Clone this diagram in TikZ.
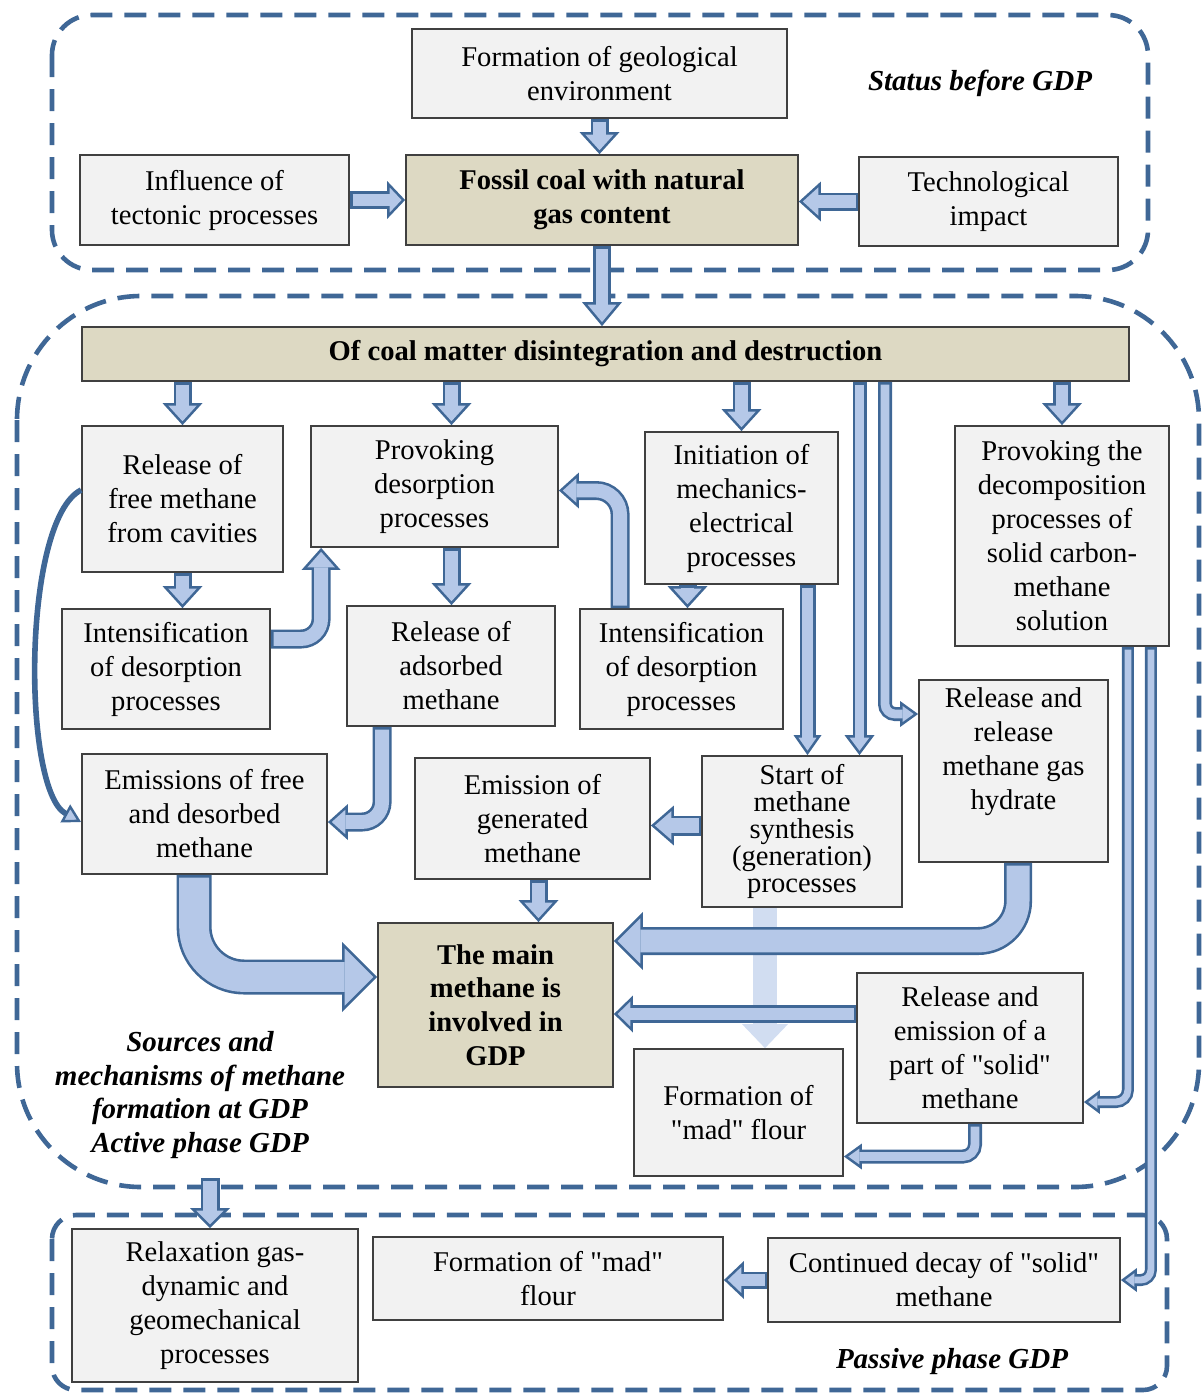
\documentclass[tikz,border=0pt]{standalone}
\usepackage{fontspec}
\setmainfont{Liberation Serif}[Ligatures=TeXOff]
\usetikzlibrary{arrows.meta,calc}

\definecolor{dblue}{HTML}{3F6796}
\definecolor{lblue}{HTML}{B5C8E8}
\definecolor{fblue}{HTML}{C9D7EF}
\definecolor{boxfill}{HTML}{F2F2F2}
\definecolor{tanfill}{HTML}{DDD9C3}
\definecolor{boxline}{HTML}{404040}

\newcommand\dq{\symbol{34}}

\tikzset{
  box/.style={draw=boxline, line width=0.9pt, fill=boxfill, inner sep=0pt, align=center,
    font=\fontsize{14.3}{17}\selectfont},
  keybox/.style={box, fill=tanfill, font=\fontsize{14.3}{16.8}\selectfont\bfseries},
  zone/.style={draw=dblue, line width=2.3pt, dash pattern=on 11pt off 6pt},
  caption/.style={align=center, inner sep=0pt, font=\fontsize{14.5}{16.8}\selectfont\bfseries\itshape},
  arrowline/.style={color=dblue},
  arrowfill/.style={color=lblue},
}

% box from pixel corners (x1,y1) (x2,y2)
\newcommand\placebox[7][box]{%
  \node[#1, minimum width={(#5-#3)*0.5pt}, minimum height={(#6-#4)*0.5pt}] (#2) at ({(#3+#5)/2},{(#4+#6)/2}) {#7};}

\def\bab{1.3}
\newcommand\blkarrow[5][]{%
  \pgfmathsetmacro\baW{#2}%
  \pgfmathsetmacro\baH{#3}%
  \pgfmathsetmacro\baL{#4}%
  \pgfmathsetmacro\bah{\baH/2}%
  \pgfmathsetmacro\bada{\bab*sqrt(\baL*\baL+\bah*\bah)/\bah}%
  \pgfmathsetmacro\baLi{\baL-\bada-\bab}%
  \pgfmathsetmacro\baHi{2*\bah*\baLi/\baL}%
  \pgfmathsetmacro\baWi{\baW-2*\bab}%
  \draw[arrowline, line width=\baW pt, -{Triangle[length=\baL pt, width=\baH pt, line width=0pt]}, #1] #5;
  \draw[arrowfill, line width=\baWi pt, -{Triangle[length=\baLi pt, width=\baHi pt, line width=0pt]}, shorten >=\bada pt, shorten <=\bab pt, #1] #5;
}

\begin{document}
\begin{tikzpicture}[x=0.5pt,y=-0.5pt]
\useasboundingbox (0,0) rectangle (1202,1394);

% zones
\draw[zone, rounded corners=20pt] (52,15) rectangle (1148,270);
\draw[zone, rounded corners=62pt] (17,296) rectangle (1199,1187);
\draw[zone, rounded corners=12pt] (52,1215) rectangle (1167,1390);

% captions
\node[caption] (stat) at (980,83) {Status before GDP};
\node[caption] (src) at (200,1095) {Sources and\\mechanisms of methane\\formation at GDP\\Active phase GDP};
\node[caption] (pas) at (952,1362) {Passive phase GDP};

% boxes
\placebox{geo}{412}{29}{787}{118}{Formation of geological\\environment}
\placebox[keybox]{fossil}{406}{155}{798}{245}{Fossil coal with natural\\gas content}
\placebox{infl}{80}{155}{349}{245}{Influence of\\tectonic processes}
\placebox{tech}{859}{157}{1118}{246}{Technological\\impact}
\placebox[keybox]{bar}{82}{327}{1129}{381}{Of coal matter disintegration and destruction}
\placebox{rfree}{82}{426}{283}{572}{Release of\\free methane\\from cavities}
\placebox{prov}{311}{426}{558}{547}{Provoking\\desorption\\processes}
\placebox{init}{645}{432}{838}{584}{Initiation of\\mechanics-\\electrical\\processes}
\placebox{pdec}{955}{426}{1169}{646}{Provoking the\\decomposition\\processes of\\solid carbon-\\methane\\solution}
\placebox{int1}{62}{609}{270}{729}{Intensification\\of desorption\\processes}
\placebox{rads}{347}{606}{555}{726}{Release of\\adsorbed\\methane}
\placebox{int2}{580}{609}{783}{729}{Intensification\\of desorption\\processes}
\placebox{hyd}{919}{680}{1108}{862}{Release and\\release\\methane gas\\hydrate\\\strut}
\placebox{emfree}{82}{754}{327}{874}{Emissions of free\\and desorbed\\methane}
\placebox{emgen}{415}{758}{650}{879}{Emission of\\generated\\methane}
\placebox[box, font=\fontsize{14.3}{13.4}\selectfont]{start}{702}{756}{902}{907}{Start of\\methane\\synthesis\\(generation)\\processes}
\placebox[keybox]{main}{378}{923}{613}{1087}{The main\\methane is\\involved in\\GDP}
\placebox{solid}{857}{973}{1083}{1123}{Release and\\emission of a\\part of \dq solid\dq\\methane}
\placebox{mad1}{634}{1049}{843}{1176}{Formation of\\\dq mad\dq\ flour}
\placebox{relax}{72}{1229}{358}{1382}{Relaxation gas-\\dynamic and\\geomechanical\\processes}
\placebox{mad2}{373}{1237}{723}{1320}{Formation of \dq mad\dq\\flour}
\placebox{decay}{768}{1238}{1120}{1322}{Continued decay of \dq solid\dq\\methane}

% helper coordinates
\coordinate (act) at (210,1178);
\coordinate (p1) at ([xshift=8.5pt]prov.north);
\coordinate (p2) at ([xshift=8.5pt]prov.south);
\coordinate (b1) at ([xshift=127pt]bar.south);
\coordinate (b2) at ([xshift=139.75pt]bar.south);
\coordinate (h1) at ([yshift=28.5pt]hyd.west);
\coordinate (i1) at ([xshift=33pt]init.south);
\coordinate (i2) at ([xshift=-27pt]init.south);
\coordinate (n1) at ([yshift=15pt]int1.east);
\coordinate (n2) at ([xshift=5.5pt]prov.south west);
\coordinate (n3) at ([xshift=20.5pt]int2.north west);
\coordinate (n4) at ([yshift=-2pt]prov.east);
\coordinate (n5) at ([xshift=18pt]rads.south west);
\coordinate (n6) at ([yshift=-4pt]emfree.east);
\coordinate (c1) at ([yshift=4.5pt]rfree.west);
\coordinate (c2) at ([yshift=-4pt]emfree.west);
\coordinate (e1) at ([xshift=56.5pt]emfree.south west);
\coordinate (e2) at ([yshift=14pt]main.west);
\coordinate (g1) at ([xshift=3pt]emgen.south);
\coordinate (s1) at ([yshift=3pt]start.west);
\coordinate (f1) at ([xshift=-18.5pt]start.south);
\coordinate (y1) at ([xshift=50pt]hyd.south west);
\coordinate (y2) at ([yshift=32pt]main.east);
\coordinate (r1) at ([yshift=17pt]solid.west);
\coordinate (r2) at ([xshift=2.5pt]solid.south);
\coordinate (r3) at ([yshift=-22pt]mad1.east);
\coordinate (d1) at ([xshift=-21pt]pdec.south east);
\coordinate (d2) at ([yshift=-27pt]solid.east);
\coordinate (d3) at ([xshift=-9.5pt]pdec.south east);

% top arrows
\blkarrow{9}{20}{11}{(geo.south) -- (geo.south |- fossil.north)}
\blkarrow{9}{19}{9}{(infl.east) -- (infl.east -| fossil.west)}
\blkarrow{9}{20}{11}{(tech.west) -- (tech.west -| fossil.east)}
\blkarrow{9}{20}{12}{(fossil.south) -- (fossil.south |- bar.north)}

% from the bar
\blkarrow{9}{20}{11}{(rfree.north |- bar.south) -- (rfree.north)}
\blkarrow{9}{20}{11}{(p1 |- bar.south) -- (p1)}
\blkarrow{9}{20}{11}{(init.north |- bar.south) -- (init.north)}
\blkarrow{9}{20}{11}{(pdec.north |- bar.south) -- (pdec.north)}
\blkarrow{7}{15}{10}{(b1) -- (b1 |- start.north)}
\blkarrow[rounded corners=5pt]{7}{13}{9}{(b2) |- (h1)}

% second row
\blkarrow{8}{14}{10}{(i1) -- (i1 |- start.north)}
\blkarrow{9}{20}{11}{(i2) -- (i2 |- int2.north)}
\blkarrow{9}{20}{11}{(rfree.south) -- (rfree.south |- int1.north)}
\blkarrow{9}{20}{11}{(p2) -- (p2 |- rads.north)}
\blkarrow[rounded corners=10pt]{9.5}{19.5}{11}{(n1) -| (n2)}
\blkarrow[rounded corners=12pt]{9.5}{18}{10}{(n3) |- (n4)}
\blkarrow[rounded corners=10pt]{9.5}{18}{10}{(n5) |- (n6)}
\draw[dblue, line width=2.8pt, -{Triangle[length=9pt, width=10pt, fill=lblue, line width=1.2pt]}] (c1) .. controls (22,520) and (22,790) .. (c2);

% lower part
\draw[fblue, opacity=0.85, line width=12pt, -{Triangle[length=12pt,width=23pt,line width=0pt]}] (f1) -- (f1 |- mad1.north);
\blkarrow[rounded corners=25pt]{17.5}{35}{17.5}{(e1) |- (e2)}
\blkarrow{9}{20}{11}{(g1) -- (g1 |- main.north)}
\blkarrow{10}{20}{11.5}{(s1) -- (s1 -| emgen.east)}
\blkarrow[rounded corners=20pt]{14}{29}{14.5}{(y1) |- (y2)}
\blkarrow{9}{18.5}{9.5}{(r1) -- (r1 -| main.east)}
\blkarrow[rounded corners=6pt]{7}{13}{9}{(r2) |- (r3)}
\blkarrow[rounded corners=6pt]{6}{12}{8}{(d1) |- (d2)}
\blkarrow[rounded corners=5pt]{6}{12}{8}{(d3) |- (decay.east)}
\blkarrow{8.5}{19}{10}{(decay.west) -- (decay.west -| mad2.east)}
\blkarrow{9.5}{20}{10}{(act) -- (act |- relax.north)}

\end{tikzpicture}
\end{document}
